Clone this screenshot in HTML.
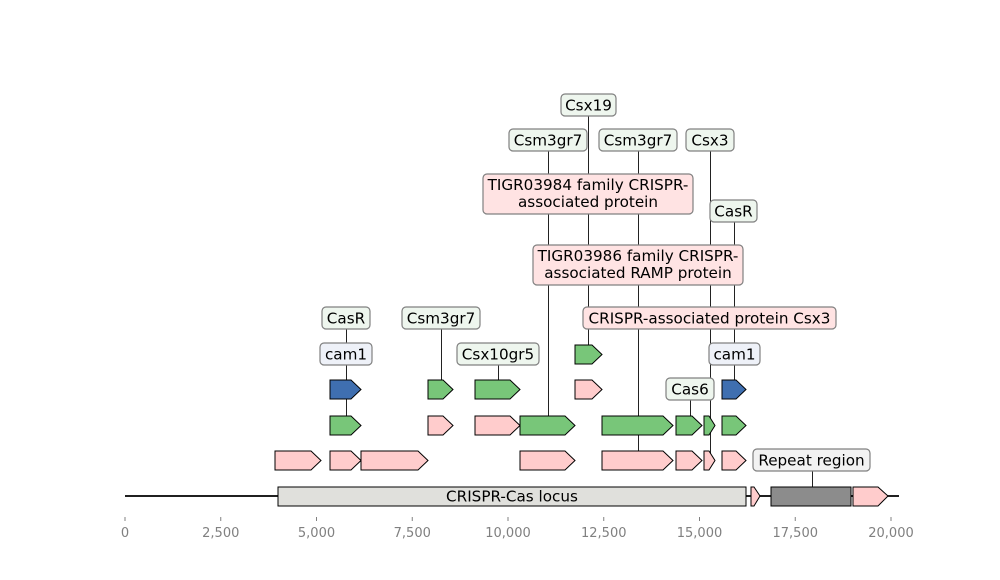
<!DOCTYPE html>
<html><head><meta charset="utf-8"><style>
body{margin:0;background:#fff}
svg{display:block}
text{font-family:"DejaVu Sans","Liberation Sans",sans-serif;font-size:15.2px;fill:#000}
.ax{fill:#808080;font-size:13px}
.p{fill:#ffcccc;stroke:#000;stroke-width:1}
.g{fill:#78c679;stroke:#000;stroke-width:1}
.b{fill:#3f6fb0;stroke:#000;stroke-width:1}
.l{stroke:#222;stroke-width:1}
.lg{fill:#eef6ee;stroke:#808080;stroke-width:1.2}
.lp{fill:#ffe3e3;stroke:#808080;stroke-width:1.2}
.lb{fill:#eef1f8;stroke:#808080;stroke-width:1.2}
.lr{fill:#f2f2f2;stroke:#808080;stroke-width:1.2}
</style></head><body>
<svg width="1000" height="580" viewBox="0 0 1000 580">
<g class="l">
<line x1="588.5" y1="116" x2="588.5" y2="354"/>
<line x1="548.5" y1="151" x2="548.5" y2="425"/>
<line x1="638.5" y1="151" x2="638.5" y2="460"/>
<line x1="710.5" y1="151" x2="710.5" y2="460"/>
<line x1="734.5" y1="222" x2="734.5" y2="389"/>
<line x1="346.5" y1="329" x2="346.5" y2="425"/>
<line x1="441.5" y1="329" x2="441.5" y2="389"/>
<line x1="498.5" y1="365" x2="498.5" y2="389"/>
<line x1="690.5" y1="400" x2="690.5" y2="425"/>
<line x1="812.5" y1="471" x2="812.5" y2="496"/>
</g>
<line x1="125" y1="496" x2="899" y2="496" stroke="#000" stroke-width="1.8"/>
<rect x="278" y="487" width="468" height="19" fill="#e0e0dc" stroke="#000"/>
<text x="512" y="501.5" text-anchor="middle">CRISPR-Cas locus</text>
<polygon class="p" points="751,487 754,487 760,496 754,506 751,506"/>
<rect x="771" y="487" width="80" height="19" fill="#8c8c8c" stroke="#000"/>
<polygon class="p" points="853,487 878,487 888,496 878,506 853,506"/>
<g class="p">
<polygon points="275,451 311,451 321,460.5 311,470 275,470"/>
<polygon points="330,451 351,451 361,460.5 351,470 330,470"/>
<polygon points="361,451 418,451 428,460.5 418,470 361,470"/>
<polygon points="520,451 565,451 575,460.5 565,470 520,470"/>
<polygon points="602,451 663,451 673,460.5 663,470 602,470"/>
<polygon points="676,451 692,451 702,460.5 692,470 676,470"/>
<polygon points="704,451 709,451 715,460.5 709,470 704,470"/>
<polygon points="722,451 736,451 746,460.5 736,470 722,470"/>
</g>
<polygon class="g" points="330,416 351,416 361,425.5 351,435 330,435"/>
<polygon class="p" points="428,416 443,416 453,425.5 443,435 428,435"/>
<polygon class="p" points="475,416 510,416 520,425.5 510,435 475,435"/>
<g class="g">
<polygon points="520,416 565,416 575,425.5 565,435 520,435"/>
<polygon points="602,416 663,416 673,425.5 663,435 602,435"/>
<polygon points="676,416 692,416 702,425.5 692,435 676,435"/>
<polygon points="704,416 709,416 715,425.5 709,435 704,435"/>
<polygon points="722,416 736,416 746,425.5 736,435 722,435"/>
</g>
<polygon class="b" points="330,380 351,380 361,389.5 351,399 330,399"/>
<polygon class="g" points="428,380 443,380 453,389.5 443,399 428,399"/>
<polygon class="g" points="475,380 510,380 520,389.5 510,399 475,399"/>
<polygon class="p" points="575,380 592,380 602,389.5 592,399 575,399"/>
<polygon class="b" points="722,380 736,380 746,389.5 736,399 722,399"/>
<polygon class="g" points="575,345 592,345 602,354.5 592,364 575,364"/>
<rect class="lg" x="561" y="94" width="55" height="22" rx="4"/><text x="588.5" y="110.5" text-anchor="middle">Csx19</text>
<rect class="lg" x="509" y="129" width="78" height="22" rx="4"/><text x="548" y="145.5" text-anchor="middle">Csm3gr7</text>
<rect class="lg" x="599" y="129" width="78" height="22" rx="4"/><text x="638" y="145.5" text-anchor="middle">Csm3gr7</text>
<rect class="lg" x="686" y="129" width="48" height="22" rx="4"/><text x="710" y="145.5" text-anchor="middle">Csx3</text>
<rect class="lp" x="483" y="174" width="210" height="40" rx="4"/><text x="588" y="190" text-anchor="middle">TIGR03984 family CRISPR-</text><text x="588" y="207" text-anchor="middle">associated protein</text>
<rect class="lg" x="710" y="200" width="47" height="22" rx="4"/><text x="733.5" y="216.5" text-anchor="middle">CasR</text>
<rect class="lp" x="533" y="245" width="210" height="40" rx="4"/><text x="638" y="261" text-anchor="middle">TIGR03986 family CRISPR-</text><text x="638" y="278" text-anchor="middle">associated RAMP protein</text>
<rect class="lp" x="583" y="307" width="253" height="22" rx="4"/><text x="709.5" y="323.5" text-anchor="middle">CRISPR-associated protein Csx3</text>
<rect class="lg" x="322" y="307" width="48" height="22" rx="4"/><text x="346" y="323.5" text-anchor="middle">CasR</text>
<rect class="lg" x="402" y="307" width="78" height="22" rx="4"/><text x="441" y="323.5" text-anchor="middle">Csm3gr7</text>
<rect class="lb" x="320" y="343" width="52" height="22" rx="4"/><text x="346" y="359.5" text-anchor="middle">cam1</text>
<rect class="lg" x="457" y="343" width="82" height="22" rx="4"/><text x="498" y="359.5" text-anchor="middle">Csx10gr5</text>
<rect class="lb" x="709" y="343" width="51" height="22" rx="4"/><text x="734.5" y="359.5" text-anchor="middle">cam1</text>
<rect class="lg" x="666" y="378" width="48" height="22" rx="4"/><text x="690" y="394.5" text-anchor="middle">Cas6</text>
<rect class="lr" x="753" y="449" width="117" height="22" rx="4"/><text x="811.5" y="465.5" text-anchor="middle">Repeat region</text>
<g stroke="#808080" stroke-width="1">
<line x1="125" y1="517" x2="125" y2="521"/><line x1="220.75" y1="517" x2="220.75" y2="521"/>
<line x1="316.5" y1="517" x2="316.5" y2="521"/><line x1="412.25" y1="517" x2="412.25" y2="521"/>
<line x1="508" y1="517" x2="508" y2="521"/><line x1="603.75" y1="517" x2="603.75" y2="521"/>
<line x1="699.5" y1="517" x2="699.5" y2="521"/><line x1="795.25" y1="517" x2="795.25" y2="521"/>
<line x1="891" y1="517" x2="891" y2="521"/>
</g>
<g text-anchor="middle">
<text class="ax" x="125" y="537">0</text><text class="ax" x="220.75" y="537">2,500</text>
<text class="ax" x="316.5" y="537">5,000</text><text class="ax" x="412.25" y="537">7,500</text>
<text class="ax" x="508" y="537">10,000</text><text class="ax" x="603.75" y="537">12,500</text>
<text class="ax" x="699.5" y="537">15,000</text><text class="ax" x="795.25" y="537">17,500</text>
<text class="ax" x="891" y="537">20,000</text>
</g>
</svg>
</body></html>
